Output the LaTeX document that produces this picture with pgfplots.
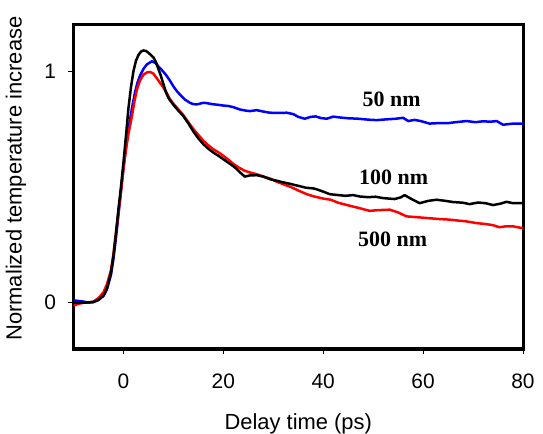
\documentclass[border=0pt]{standalone}
\usepackage{pgfplots}
\pgfplotsset{compat=1.18}
\usepackage{fontspec}
\setmainfont{Liberation Sans}
\newfontfamily\serifb{Liberation Serif}
\definecolor{cblue}{RGB}{0,0,255}
\definecolor{cred}{RGB}{255,0,0}
\pgfplotsset{every axis/.append style={line width=3bp},
 every outer x axis line/.append style={line width=3bp},
 every outer y axis line/.append style={line width=3bp}}
\begin{document}
\begin{tikzpicture}
\begin{axis}[
 at={(73.5bp,85bp)}, anchor=south west,
 scale only axis, width=449.5bp, height=324bp,
 xmin=-10, xmax=80, ymin=-0.2, ymax=1.2,
 xtick={0,20,40,60,80}, ytick={0,1},
 xtick pos=bottom, ytick pos=left,
 tick align=outside, major tick length=5bp,
 axis line style={line width=3bp, line cap=rect},
 tick style={line width=1bp, black},
 /pgf/number format/assume math mode=true,
 every tick label/.append style={font=\fontsize{21}{25}\selectfont},
 xticklabel style={anchor=center, yshift=-27bp},
 yticklabel style={anchor=east, inner sep=0pt, xshift=-11bp},
 xlabel={Delay time (ps)}, ylabel={Normalized temperature increase},
 label style={font=\fontsize{22}{26}\selectfont},
 xlabel style={at={(axis description cs:0.5,-0.232)}, anchor=center},
 ylabel style={at={(axis description cs:-0.1279,0.526)}, anchor=center},
 every axis plot/.append style={line width=2.5bp, line join=round, mark=none},
]
\addplot[cblue] coordinates {
(-10,0.01)(-8,0.005)(-7,0.0)(-6,0.003)(-5,0.012)(-4,0.03)(-3.3,0.06)(-2.5,0.12)(-2,0.19)(-1.5,0.28)(-1,0.38)(-0.5,0.48)(0,0.58)(0.5,0.67)(1,0.75)(1.7,0.84)(2.3,0.907)(2.8,0.95)(3.3,0.98)(4,1.01)(4.7,1.03)(5.7,1.043)(6.5,1.035)(7,1.02)(7.7,1.005)(8.5,0.985)(9.3,0.96)(10,0.935)(10.7,0.914)(11.5,0.895)(12.3,0.878)(13.3,0.864)(14,0.858)(14.7,0.857)(15.3,0.86)(16,0.864)(16.8,0.862)(17.8,0.858)(19,0.855)(20,0.852)(21,0.85)(22,0.845)(23.3,0.835)(24.5,0.83)(25.3,0.828)(26.7,0.832)(28,0.826)(29.3,0.821)(31,0.82)(32.7,0.821)(34,0.815)(35,0.803)(36.3,0.795)(37.5,0.803)(38.5,0.805)(39.5,0.798)(40.7,0.795)(42,0.804)(43.5,0.8)(45,0.797)(47,0.795)(49,0.791)(50.7,0.789)(52.5,0.792)(54.5,0.795)(56,0.799)(57,0.785)(58.3,0.79)(59.5,0.785)(61.3,0.774)(63,0.776)(65,0.776)(66.5,0.78)(68.7,0.785)(70.5,0.78)(72,0.784)(73.5,0.782)(74.7,0.785)(76,0.769)(78,0.774)(80,0.774)
};
\addplot[cred] coordinates {
(-10,-0.012)(-9,-0.005)(-8,0.0)(-7,0.0)(-6,0.005)(-5,0.02)(-4,0.045)(-3.3,0.08)(-2.5,0.14)(-2,0.21)(-1.5,0.30)(-1,0.39)(-0.5,0.48)(0,0.58)(0.5,0.66)(1,0.73)(1.7,0.806)(2.2,0.87)(2.7,0.921)(3.3,0.96)(4,0.985)(4.7,0.995)(5.3,0.997)(6,0.99)(6.5,0.975)(7,0.96)(7.5,0.945)(8,0.93)(8.7,0.905)(9.3,0.88)(10,0.86)(11,0.835)(12,0.81)(13,0.78)(14,0.75)(15,0.725)(16,0.70)(17,0.68)(18,0.663)(19,0.65)(20,0.635)(21,0.618)(22,0.60)(23,0.585)(24.3,0.57)(25.3,0.563)(26.7,0.555)(28,0.545)(29.3,0.537)(30.5,0.525)(32,0.512)(33.5,0.50)(35,0.485)(36.7,0.469)(38,0.46)(40,0.45)(41.5,0.445)(43,0.432)(45.3,0.419)(47,0.41)(49.3,0.397)(51,0.40)(53.3,0.402)(55,0.39)(56.7,0.373)(58.5,0.37)(61.3,0.365)(63,0.362)(65.3,0.359)(67,0.355)(68.5,0.352)(70.7,0.344)(72.5,0.34)(74,0.335)(75.3,0.326)(76.5,0.33)(78,0.33)(80,0.322)
};
\addplot[black] coordinates {
(-10,0.0)(-8,0.0)(-6,0.003)(-5,0.012)(-4,0.03)(-3.3,0.06)(-2.5,0.13)(-2,0.204)(-1.5,0.30)(-1,0.405)(-0.5,0.50)(0,0.606)(0.5,0.72)(1,0.84)(1.5,0.93)(2,1.00)(2.5,1.045)(3,1.07)(3.5,1.085)(4,1.09)(4.5,1.088)(5,1.08)(5.5,1.07)(6,1.06)(6.5,1.04)(7,1.01)(7.5,0.98)(8,0.945)(8.5,0.91)(9,0.885)(9.5,0.87)(10,0.855)(11,0.83)(12,0.806)(13,0.775)(14,0.74)(15,0.71)(16,0.685)(17,0.665)(18,0.649)(19,0.635)(20,0.62)(21,0.605)(22,0.59)(22.7,0.577)(23.5,0.56)(24.3,0.545)(25.3,0.55)(26.7,0.551)(28,0.545)(29.3,0.534)(30.5,0.528)(32,0.52)(33.5,0.513)(35,0.505)(36.5,0.497)(38,0.494)(38.7,0.49)(40,0.48)(41.3,0.469)(43,0.465)(44.5,0.462)(46,0.465)(47.3,0.459)(49,0.456)(50.5,0.458)(52,0.452)(54.3,0.448)(55.5,0.455)(56.3,0.465)(57.5,0.45)(59.3,0.43)(61,0.44)(62.7,0.445)(64.5,0.44)(66,0.435)(68,0.432)(69.3,0.426)(71,0.433)(72.5,0.43)(74,0.422)(75.5,0.428)(76.7,0.436)(78,0.43)(80,0.43)
};
\node[font=\serifb\bfseries\fontsize{22}{26}\selectfont] at (axis cs:53.7,0.881) {50 nm};
\node[font=\serifb\bfseries\fontsize{22}{26}\selectfont] at (axis cs:54.1,0.541) {100 nm};
\node[font=\serifb\bfseries\fontsize{22}{26}\selectfont] at (axis cs:53.9,0.276) {500 nm};
\end{axis}
\pgfresetboundingbox
\useasboundingbox (0,0) rectangle (543bp,434bp);
\end{tikzpicture}
\end{document}
